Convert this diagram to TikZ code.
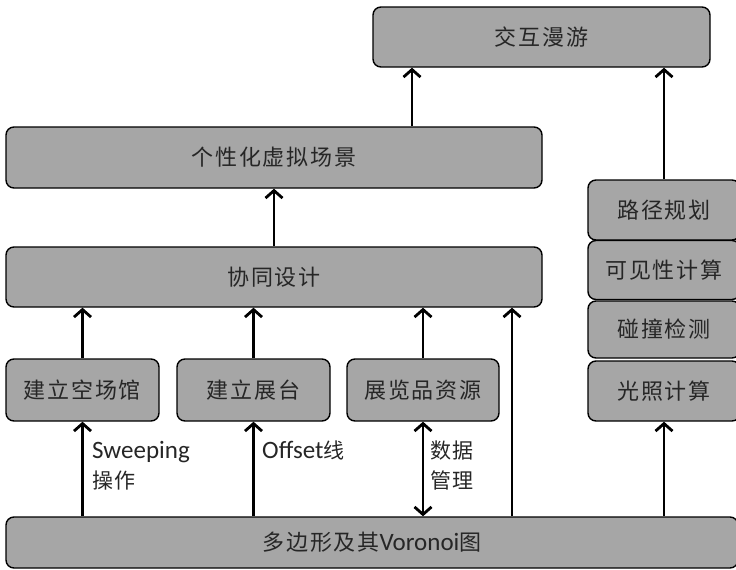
\documentclass[tikz,border=0pt]{standalone}
\usepackage{fontspec}
\setmainfont{Noto Sans CJK SC}[LetterSpace=8]
\newfontfamily\latf{Carlito}
\newcommand{\lat}[1]{{\fontsize{25}{25}\latf #1}}
\usetikzlibrary{arrows.meta}
\definecolor{boxgray}{RGB}{166,166,166}
\definecolor{txt}{RGB}{38,38,38}
\tikzset{
  box/.style={draw=black, line width=1.4pt, fill=boxgray, rounded corners=8pt,
    inner sep=0pt, text=txt, font=\fontsize{22}{22}\selectfont},
  tip/.style={Straight Barb[length=7.5pt,width=17pt,line width=2.8pt]},
  arr/.style={line width=2.8pt, -{Straight Barb[length=7.5pt,width=17pt,line width=2.8pt]}},
  darr/.style={line width=2.8pt, {Straight Barb[length=7.5pt,width=17pt,line width=2.8pt]}-{Straight Barb[length=7.5pt,width=17pt,line width=2.8pt]}},
  lbl/.style={inner sep=0pt, anchor=north west, align=left, text=txt,
    font=\fontsize{21}{30}\selectfont}
}
\begin{document}
\begin{tikzpicture}[x=1pt,y=-1pt]
\useasboundingbox (0,0) rectangle (736,570);
\clip (0,0) rectangle (736,570);
\node[box, minimum width=337pt, minimum height=60pt] (hj) at (541.5,37) {交互漫游};
\node[box, minimum width=536pt, minimum height=61pt] (gx) at (274,157.5) {个性化虚拟场景};
\node[box, minimum width=536pt, minimum height=60pt] (xt) at (274,277) {协同设计};
\node[box, minimum width=153pt, minimum height=62pt] (kcg) at (82.5,390) {建立空场馆};
\node[box, minimum width=153pt, minimum height=62pt] (zt) at (253.5,390) {建立展台};
\node[box, minimum width=152pt, minimum height=62pt] (zlp) at (423,390) {展览品资源};
\node[box, minimum width=732pt, minimum height=51pt] (vor) at (372,542.5) {多边形及其\lat{Voronoi}图};
\node[box, minimum width=152pt, minimum height=60pt] (ljgh) at (664,210) {路径规划};
\node[box, minimum width=152pt, minimum height=59pt] (kjx) at (664,270) {可见性计算};
\node[box, minimum width=152pt, minimum height=57pt] (pzjc) at (664,329.5) {碰撞检测};
\node[box, minimum width=152pt, minimum height=60pt] (gzjs) at (664,391) {光照计算};

\draw[arr] ([xshift=138pt]gx.north) -- ([xshift=138pt]gx.north |- hj.south);
\draw[arr] (ljgh.north) -- (ljgh.north |- hj.south);
\draw[arr] (xt.north) -- (gx.south);
\draw[arr] (kcg.north) -- (kcg.north |- xt.south);
\draw[arr] (zt.north) -- (zt.north |- xt.south);
\draw[arr] (zlp.north) -- (zlp.north |- xt.south);
\draw[arr] ([xshift=140pt]vor.north) -- ([xshift=140pt]vor.north |- xt.south);
\draw[arr] (vor.north -| kcg.south) -- (kcg.south);
\draw[arr] (vor.north -| zt.south) -- (zt.south);
\draw[darr] (zlp.south) -- (zlp.south |- vor.north);
\draw[arr] (vor.north -| gzjs.south) -- (gzjs.south);

\node[lbl] (l1) at (92,441) {\lat{Sweeping}\\操作};
\node[lbl] (l2) at (262,441) {\lat{Offset}线};
\node[lbl] (l3) at (430,441) {数据\\管理};
\end{tikzpicture}
\end{document}
